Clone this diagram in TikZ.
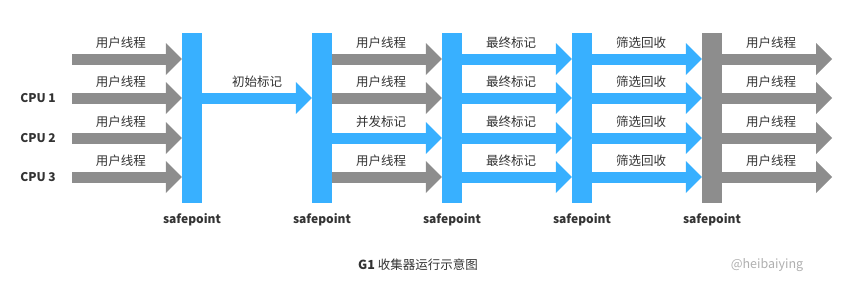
\documentclass[tikz,border=0pt]{standalone}
\usepackage{fontspec}
\setmainfont{Noto Sans CJK SC}
\usetikzlibrary{positioning,arrows.meta,calc}
\definecolor{ink}{RGB}{51,51,51}
\definecolor{sky}{RGB}{56,176,255}
\definecolor{stone}{RGB}{141,141,141}
\definecolor{soft}{RGB}{175,175,175}
\tikzset{
  bar/.style={fill=#1, minimum width=20pt, minimum height=170pt, inner sep=0pt},
  flow/.style={draw=#1, line width=11pt,
               -{Triangle[length=16pt, width=32pt, line width=0pt]}},
  lbl/.style={font=\fontsize{12.5}{14}\selectfont, text=ink, yshift=16pt, xshift=-6pt},
  cpu/.style={font=\fontsize{12}{14}\selectfont\bfseries, text=ink},
}

\begin{document}
\begin{tikzpicture}[x=1pt, y=-1pt]
        \useasboundingbox (0,0) rectangle (865,285);
        % safepoint bars
        \node[bar=sky] (sp1) at (192,118) {};
        \node[bar=sky] (sp2) at (322,118) {};
        \node[bar=sky] (sp3) at (452,118) {};
        \node[bar=sky] (sp4) at (582,118) {};
        \node[bar=stone] (sp5) at (712,118) {};
        \foreach \i in {1,...,5}
          \node[cpu, below=7pt of sp\i] (sl\i) {safepoint};
        % rows
        \foreach \r/\y in {1/59, 2/98, 3/138, 4/177} {
          \coordinate (in\r) at (72,\y);
          \coordinate (out\r) at (832,\y);
        }
        \node[cpu] (cpu1) at (38,98) {CPU 1};
        \node[cpu] (cpu2) at (38,138) {CPU 2};
        \node[cpu] (cpu3) at (38,177) {CPU 3};
        % phases
        \foreach \r in {1,...,4} {
          \draw[flow=stone] (in\r) -- (sp1.west |- in\r) node[lbl, midway] {用户线程};
          \draw[flow=sky] (sp3.east |- in\r) -- (sp4.west |- in\r) node[lbl, midway] {最终标记};
          \draw[flow=sky] (sp4.east |- in\r) -- (sp5.west |- in\r) node[lbl, midway] {筛选回收};
          \draw[flow=stone] (sp5.east |- in\r) -- (out\r) node[lbl, midway] {用户线程};
        }
        \draw[flow=sky] (sp1.east |- in2) -- (sp2.west |- in2) node[lbl, midway, xshift=6pt] {初始标记};
        \foreach \r/\c/\t in {1/stone/用户线程, 2/stone/用户线程, 3/sky/并发标记, 4/stone/用户线程}
          \draw[flow=\c] (sp2.east |- in\r) -- (sp3.west |- in\r) node[lbl, midway] {\t};
        % caption
        \node[font=\fontsize{12.5}{14}\selectfont, text=ink] (cap) at (418,265) {{\bfseries G1} 收集器运行示意图};
        \node[font=\fontsize{12.5}{14}\selectfont, text=soft] (mark) at (767,265) {@heibaiying};
      \end{tikzpicture}
\end{document}
